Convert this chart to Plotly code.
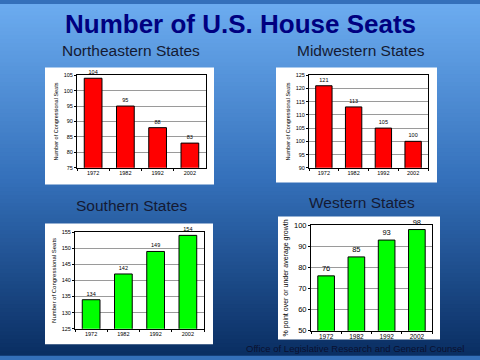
import plotly.graph_objects as go

years = ["1972", "1982", "1992", "2002"]
northeast = [104, 95, 88, 83]
midwest = [121, 113, 105, 100]
south = [134, 142, 149, 154]
west = [76, 85, 93, 98]

W, H = 480, 360

def px(x):
    return x / W

def py(y):
    return 1 - y / H

fig = go.Figure()

panels = [
    (northeast, "#ff0000", "", (77, 206), (73, 168), [75, 105], 5, 5.5, 5.5, "Number of Congressional Seats", 5.5),
    (midwest, "#ff0000", "2", (309, 428), (73, 168), [90, 125], 5, 5.5, 5.5, "Number of Congressional Seats", 5.5),
    (south, "#00ff00", "3", (75, 204), (234, 333), [125, 155], 5, 5.5, 5.5, "Number of Congressional Seats", 6),
    (west, "#00ff00", "4", (311, 432), (227, 335), [50, 100], 10, 7.5, 6.5, "% point over or under average growth", 7),
]

layout_axes = {}
for vals, col, ax, xd, yd, rng, dt, fs, xfs, ytitle, tfs in panels:
    fig.add_trace(go.Bar(
        x=years, y=vals, marker=dict(color=col, line=dict(color="black", width=1)),
        text=[str(v) for v in vals], textposition="outside", cliponaxis=False,
        textfont=dict(size=fs, color="black", family="Arial"),
        xaxis="x" + ax, yaxis="y" + ax, showlegend=False, hoverinfo="skip",
    ))
    layout_axes["xaxis" + ax] = dict(
        domain=[px(xd[0]), px(xd[1])], anchor="y" + ax, type="category",
        showline=True, linecolor="black", linewidth=1, mirror=True,
        ticks="outside", ticklen=2, tickcolor="black", tickson="boundaries",
        tickfont=dict(size=xfs, color="black", family="Arial"), showgrid=False,
    )
    layout_axes["yaxis" + ax] = dict(
        domain=[py(yd[1]), py(yd[0])], anchor="x" + ax, range=rng, dtick=dt,
        showline=True, linecolor="black", linewidth=1, mirror=True,
        ticks="outside", ticklen=2, tickcolor="black",
        showgrid=True, gridcolor="#9a9a9a", gridwidth=1,
        tickfont=dict(size=fs, color="black", family="Arial"),
        title=dict(text=ytitle, font=dict(size=tfs, color="black", family="Arial"), standoff=4),
        zeroline=False,
    )

shapes = []
top = (108, 172, 240)
mid = (52, 112, 186)
bot = (10, 46, 98)
n = 90
for i in range(n):
    t = (i + 0.5) / n
    if t < 0.5:
        a, b, f = top, mid, t / 0.5
    else:
        a, b, f = mid, bot, (t - 0.5) / 0.5
    c = tuple(int(round(a[k] + (b[k] - a[k]) * f)) for k in range(3))
    shapes.append(dict(type="rect", xref="paper", yref="paper", x0=0, x1=1,
                       y0=1 - (i + 1) / n - 0.002, y1=1 - i / n,
                       fillcolor="rgb(%d,%d,%d)" % c, line=dict(width=0), layer="below"))

boxes = [(45, 214, 65, 185), (276, 437, 65, 183), (45, 213, 225, 349), (278, 440, 218, 344)]
for x0, x1, y0, y1 in boxes:
    shapes.append(dict(type="rect", xref="paper", yref="paper",
                       x0=px(x0), x1=px(x1), y0=py(y1), y1=py(y0),
                       fillcolor="white", line=dict(width=0), layer="below"))

sub_font = dict(size=15.5, color="#141a33", family="Arial")
annotations = [
    dict(text="<b>Number of U.S. House Seats</b>", x=0.5, y=py(20), xref="paper", yref="paper",
         showarrow=False, font=dict(size=26, color="#000080", family="Arial"), xanchor="center", yanchor="middle"),
    dict(text="Northeastern States", x=px(131), y=py(48), xref="paper", yref="paper",
         showarrow=False, font=sub_font, xanchor="center", yanchor="middle"),
    dict(text="Midwestern States", x=px(361), y=py(48), xref="paper", yref="paper",
         showarrow=False, font=sub_font, xanchor="center", yanchor="middle"),
    dict(text="Southern States", x=px(131), y=py(207), xref="paper", yref="paper",
         showarrow=False, font=sub_font, xanchor="center", yanchor="middle"),
    dict(text="Western States", x=px(362), y=py(204), xref="paper", yref="paper",
         showarrow=False, font=sub_font, xanchor="center", yanchor="middle"),
    dict(text="Office of Legislative Research and General Counsel", x=px(466), y=py(353), xref="paper", yref="paper",
         showarrow=False, font=dict(size=9.5, color="#0a1030", family="Arial"), xanchor="right", yanchor="middle"),
]

fig.update_layout(
    width=W, height=H, margin=dict(l=0, r=0, t=0, b=0),
    paper_bgcolor="rgb(52,112,186)", plot_bgcolor="white",
    bargap=0.45, shapes=shapes, annotations=annotations,
    font=dict(family="Arial"), hovermode=False,
    **layout_axes,
)

fig.write_html("out.html", config={"displayModeBar": False, "staticPlot": True},
               post_script="document.body.style.margin='0';document.body.style.overflow='hidden';")
